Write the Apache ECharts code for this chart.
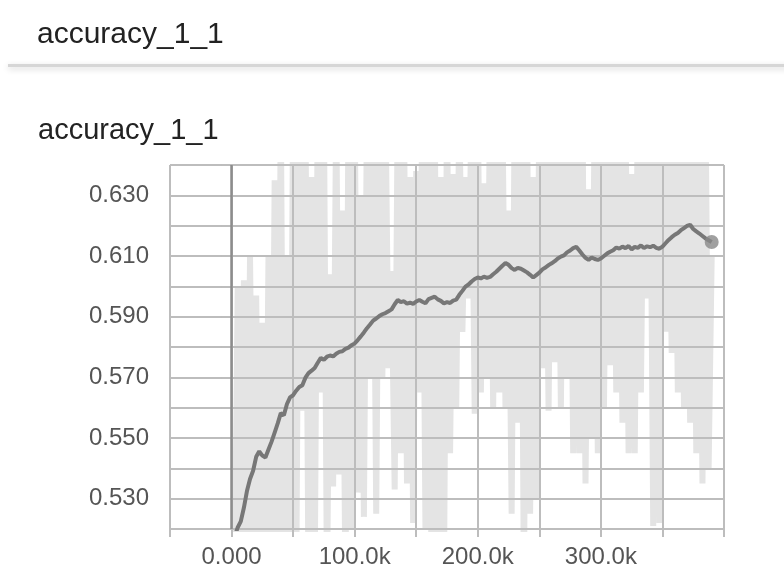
<!DOCTYPE html>
<html>
<head>
<meta charset="utf-8">
<title>accuracy_1_1</title>
<script src="https://cdn.jsdelivr.net/npm/echarts@6/dist/echarts.min.js"></script>
<style>
  html, body { margin: 0; padding: 0; background: #ffffff; }
  #chart { width: 784px; height: 579px; }
</style>
</head>
<body>
<div id="chart"></div>
<script>
// Scalar summary: accuracy_1_1 over training steps.
const runTitle = 'accuracy_1_1';

// Tick labels
const xTickValues = [0, 100000, 200000, 300000];
const xTickLabels = ['0.000', '100.0k', '200.0k', '300.0k'];
const yTickLabels = ['0.530', '0.550', '0.570', '0.590', '0.610', '0.630'];

// Raw (unsmoothed) accuracy: alternating highs and lows every 2.5k steps
const rawStep = 5000;
const rawPeaks = [
  0.50, 0.600, 0.602, 0.610, 0.597, 0.588, 0.610, 0.635, 0.66, 0.610,
  0.66, 0.66, 0.66, 0.636, 0.66, 0.66, 0.604, 0.66, 0.625, 0.66,
  0.66, 0.630, 0.66, 0.66, 0.66, 0.66, 0.605, 0.66, 0.66, 0.636,
  0.638, 0.66, 0.66, 0.66, 0.636, 0.66, 0.637, 0.66, 0.636, 0.66,
  0.66, 0.634, 0.66, 0.66, 0.66, 0.625, 0.66, 0.66, 0.66, 0.636,
  0.66, 0.66, 0.66, 0.66, 0.66, 0.66, 0.66, 0.66, 0.632, 0.66,
  0.66, 0.66, 0.66, 0.66, 0.66, 0.637, 0.66, 0.66, 0.66, 0.66,
  0.66, 0.66, 0.66, 0.66, 0.66, 0.66, 0.66, 0.66, 0.61
];
const rawDips = [
  0.50, 0.50, 0.50, 0.515, 0.50, 0.50, 0.50, 0.50, 0.50, 0.50,
  0.50, 0.559, 0.50, 0.50, 0.565, 0.50, 0.534, 0.538, 0.50, 0.52,
  0.532, 0.524, 0.570, 0.525, 0.570, 0.573, 0.533, 0.545, 0.535, 0.522,
  0.565, 0.52, 0.50, 0.51, 0.50, 0.545, 0.56, 0.585, 0.596, 0.558,
  0.565, 0.57, 0.56, 0.565, 0.56, 0.525, 0.555, 0.50, 0.525, 0.53,
  0.573, 0.559, 0.575, 0.56, 0.57, 0.545, 0.545, 0.535, 0.55, 0.545,
  0.56, 0.574, 0.565, 0.555, 0.545, 0.545, 0.565, 0.596, 0.521, 0.522,
  0.585, 0.578, 0.565, 0.56, 0.555, 0.545, 0.535, 0.54
];

// Smoothed accuracy, one value every 2.5k steps from step 0
const smoothStep = 2500;
const smoothValues = [
  0.512, 0.5175, 0.5205, 0.5225, 0.527, 0.5325, 0.5365, 0.5392, 0.5438, 0.5456,
  0.5442, 0.5436, 0.5462, 0.5488, 0.5518, 0.5548, 0.5582, 0.5575, 0.5612, 0.5634,
  0.5641, 0.5656, 0.5668, 0.5674, 0.5699, 0.5714, 0.5722, 0.5731, 0.5748, 0.5764,
  0.5758, 0.5768, 0.5772, 0.5769, 0.5778, 0.5784, 0.5786, 0.5794, 0.5798, 0.5806,
  0.5812, 0.5823, 0.5835, 0.5848, 0.5862, 0.5874, 0.5887, 0.5894, 0.5902, 0.5908,
  0.5912, 0.5918, 0.5924, 0.5941, 0.5955, 0.5948, 0.5951, 0.5943, 0.5946, 0.5942,
  0.5950, 0.5955, 0.5949, 0.5944, 0.5958, 0.5962, 0.5966, 0.5957, 0.5952, 0.5944,
  0.5948, 0.5945, 0.5953, 0.5956, 0.5972, 0.5985, 0.5999, 0.6006, 0.6016, 0.6024,
  0.6029, 0.6026, 0.6032, 0.6028, 0.6031, 0.6040, 0.6048, 0.6058, 0.6068, 0.6077,
  0.6071, 0.6060, 0.6054, 0.6061, 0.6058, 0.6052, 0.6046, 0.6038, 0.6029, 0.6037,
  0.6045, 0.6056, 0.6062, 0.6070, 0.6076, 0.6083, 0.6092, 0.6098, 0.6102, 0.6112,
  0.6118, 0.6126, 0.6130, 0.6118, 0.6105, 0.6094, 0.6087, 0.6095, 0.6090, 0.6087,
  0.6092, 0.6100, 0.6108, 0.6114, 0.6119, 0.6128, 0.6124, 0.6131, 0.6126, 0.6133,
  0.6122, 0.6130, 0.6127, 0.6135, 0.6126, 0.6132, 0.6129, 0.6134, 0.6127, 0.6124,
  0.6131, 0.6142, 0.6153, 0.6162, 0.6170, 0.6176, 0.6185, 0.6192, 0.6199, 0.6203,
  0.6189, 0.6181, 0.6174, 0.6166, 0.6158, 0.6152, 0.6146
];

// Build [step, value] pairs for the library
const rawData = [];
rawPeaks.forEach(function (v, i) {
  rawData.push([i * rawStep, v]);
  if (i < rawDips.length) rawData.push([i * rawStep + rawStep / 2, rawDips[i]]);
});
const smoothData = smoothValues.map(function (v, i) { return [i * smoothStep, v]; });
const lastPoint = smoothData[smoothData.length - 1];

const FONT = '"Liberation Sans", Arial, Helvetica, sans-serif';
const GRID_COLOR = '#bdbdbd';

const chart = echarts.init(document.getElementById('chart'), null, { renderer: 'canvas' });

chart.setOption({
  animation: false,
  backgroundColor: '#ffffff',
  title: [
    { text: runTitle, left: 32, top: 15,
      textStyle: { fontFamily: FONT, fontSize: 30, fontWeight: 'normal', color: '#222' } },
    { text: runTitle, left: 33, top: 111,
      textStyle: { fontFamily: FONT, fontSize: 29, fontWeight: 'normal', color: '#222' } }
  ],
  graphic: [
    { type: 'rect', left: 8, top: 64, z: 10,
      shape: { width: 790, height: 3 },
      style: { fill: '#d6d6d6', shadowBlur: 6, shadowColor: 'rgba(0,0,0,0.18)', shadowOffsetY: 2 } }
  ],
  grid: { left: 170, right: 60, top: 165, bottom: 50, containLabel: false },
  xAxis: {
    type: 'value', min: -50000, max: 400000, interval: 50000, z: 3,
    axisLine: { show: false },
    axisTick: { show: true, length: 8, lineStyle: { color: GRID_COLOR, width: 2 } },
    splitLine: { show: true, lineStyle: { color: GRID_COLOR, width: 2 } },
    axisLabel: {
      margin: 16, fontFamily: FONT, fontSize: 24, color: '#555',
      formatter: function (v) {
        const k = xTickValues.indexOf(v);
        return k >= 0 ? xTickLabels[k] : '';
      }
    }
  },
  yAxis: {
    type: 'value', min: 0.52, max: 0.64, interval: 0.01, z: 3,
    axisLine: { show: false },
    axisTick: { show: true, length: 10, lineStyle: { color: GRID_COLOR, width: 2 } },
    splitLine: { show: true, lineStyle: { color: GRID_COLOR, width: 2 } },
    axisLabel: {
      margin: 21, fontFamily: FONT, fontSize: 24, color: '#555',
      formatter: function (v) {
        const s = v.toFixed(3);
        return yTickLabels.indexOf(s) >= 0 ? s : '';
      }
    }
  },
  series: [
    {
      name: 'raw', type: 'line', data: rawData, z: 1,
      showSymbol: false, symbol: 'none', clip: true,
      lineStyle: { color: '#e4e4e4', width: 6, join: 'miter' },
      markLine: {
        silent: true, symbol: 'none', label: { show: false },
        lineStyle: { color: '#8c8c8c', width: 2.5, type: 'solid' },
        data: [{ xAxis: 0 }]
      }
    },
    {
      name: 'smoothed', type: 'line', data: smoothData, z: 5,
      showSymbol: false, symbol: 'none', clip: true,
      lineStyle: { color: '#777777', width: 4 }
    },
    {
      name: 'last', type: 'scatter', data: [lastPoint], z: 6,
      symbol: 'circle', symbolSize: 14,
      itemStyle: { color: '#888888' }
    }
  ]
});
</script>
</body>
</html>
